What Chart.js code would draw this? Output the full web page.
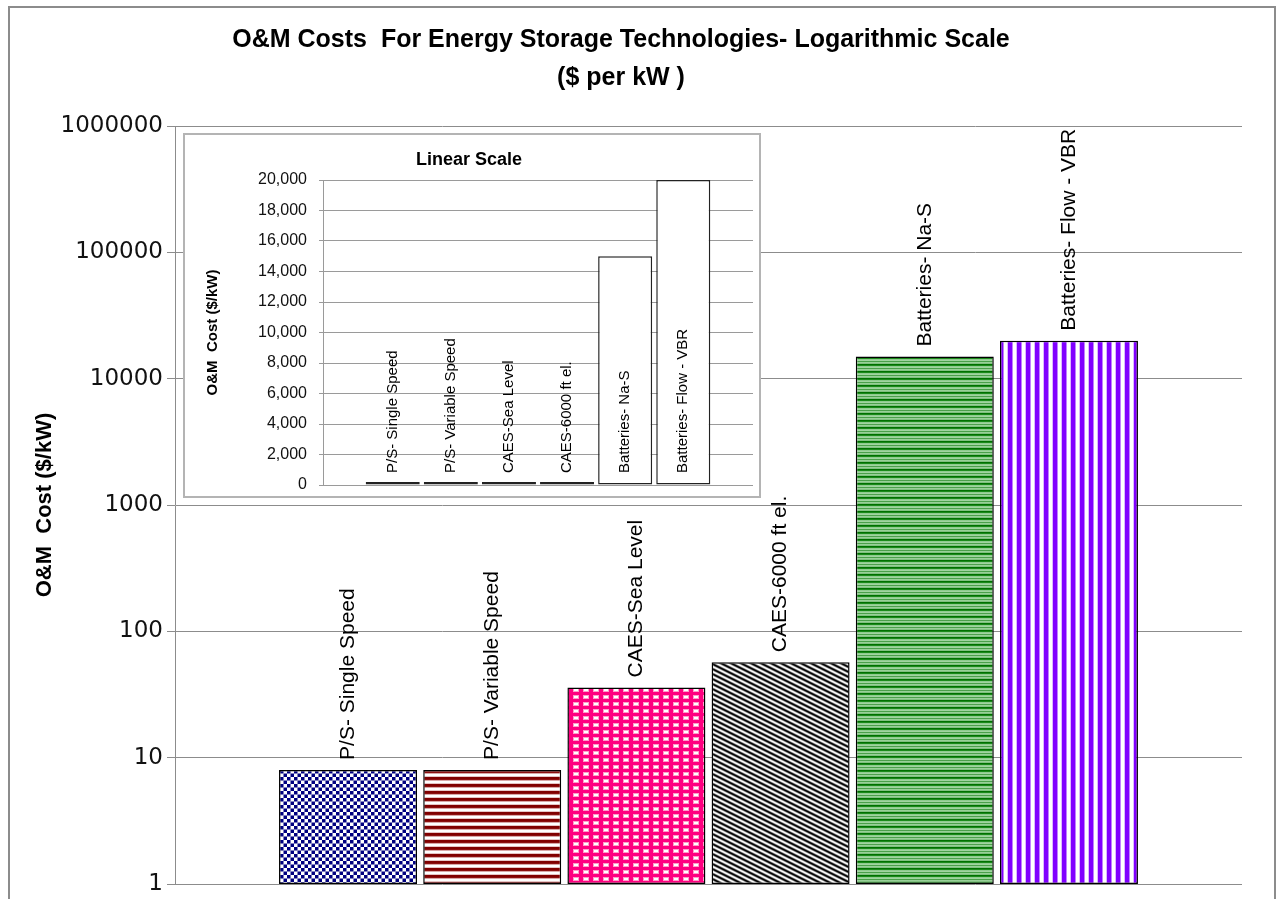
<!DOCTYPE html>
<html>
<head>
<meta charset="utf-8">
<title>O&amp;M Costs For Energy Storage Technologies</title>
<script src="https://cdn.jsdelivr.net/npm/chart.js@4.4.1/dist/chart.umd.min.js"></script>
<style>
  html, body { margin: 0; padding: 0; background: #fff; }
  #wrap { position: relative; width: 1283px; height: 899px; overflow: hidden; }
  #frame { position: absolute; left: 8px; top: 6px; width: 1268px; height: 920px; border: 2px solid #8c8c8c; box-sizing: border-box; }
  #mainBox { position: absolute; left: 0; top: 0; width: 1283px; height: 960px; }
  #insetBox { position: absolute; left: 183px; top: 133px; width: 578px; height: 365px; background: #fff; border: 2px solid #b4b4b4; box-sizing: border-box; }
  #insetInner { position: absolute; left: 185px; top: 135px; width: 574px; height: 400px; }
</style>
</head>
<body>
<div id="wrap">
  <div id="frame"></div>
  <div id="mainBox"><canvas id="mainChart"></canvas></div>
  <div id="insetBox"></div>
  <div id="insetInner"><canvas id="insetChart"></canvas></div>
</div>
<script>
// data
const technologies = ['P/S- Single Speed', 'P/S- Variable Speed', 'CAES-Sea Level', 'CAES-6000 ft el.', 'Batteries- Na-S', 'Batteries- Flow - VBR'];
const omCost = [8, 8, 36, 57, 15000, 20000];
const logTicks = [1, 10, 100, 1000, 10000, 100000, 1000000];
const linearTicks = [0, 2000, 4000, 6000, 8000, 10000, 12000, 14000, 16000, 18000, 20000];

// fill patterns
function makePattern(w, h, draw) {
    const c = document.createElement('canvas');
    c.width = w;
    c.height = h;
    const g = c.getContext('2d');
    draw(g, w, h);
    return document.createElement('canvas').getContext('2d').createPattern(c, 'repeat');
}

function rows(colors) {
    return makePattern(1, colors.length, (g) => {
        colors.forEach((col, i) => { g.fillStyle = col; g.fillRect(0, i, 1, 1); });
    });
}

function cols(colors) {
    return makePattern(colors.length, 1, (g) => {
        colors.forEach((col, i) => { g.fillStyle = col; g.fillRect(i, 0, 1, 1); });
    });
}

const checker = makePattern(7, 7, (g) => {
    g.fillStyle = '#fff';
    g.fillRect(0, 0, 7, 7);
    g.fillStyle = '#000080';
    g.fillRect(0, 0, 3.5, 3.5);
    g.fillRect(3.5, 3.5, 3.5, 3.5);
});
const redStripes = rows(['#800000', '#800000', '#8c1010', '#d8a8a8', '#ffffff', '#ffffff', '#e6c4c4']);
const pinkGrid = makePattern(10, 7, (g) => {
    g.fillStyle = '#ff0080';
    g.fillRect(0, 0, 10, 7);
    g.fillStyle = '#ff9cc8';
    g.fillRect(3, 2, 6, 4);
    g.fillStyle = '#fff';
    g.fillRect(4, 3, 4, 2);
});
const diagonal = makePattern(10, 5, (g) => {
    const img = g.createImageData(10, 5);
    for (let y = 0; y < 5; y++) {
        for (let x = 0; x < 10; x++) {
            const d = (((x - 2 * y) % 10) + 10) % 10 / 10;
            const v = Math.round(255 * (0.5 + 0.5 * Math.cos(2 * Math.PI * d)));
            const k = (y * 10 + x) * 4;
            img.data[k] = v; img.data[k + 1] = v; img.data[k + 2] = v; img.data[k + 3] = 255;
        }
    }
    g.putImageData(img, 0, 0);
});
const greenStripes = rows(['#007000', '#1a8a1a', '#8fcb8f', '#a0d4a0', '#4aa04a', '#98d098', '#80c080']);
const purpleStripes = cols(['#8000ff', '#8000ff', '#8000ff', '#8000ff', '#c080ff', '#ffffff', '#ffffff', '#ffffff', '#dcb8ff']);

const barFills = [checker, redStripes, pinkGrid, diagonal, greenStripes, purpleStripes];

// rotated category labels
const barLabels = {
    id: 'barLabels',
    afterDatasetsDraw(chart, args, opts) {
        const ctx = chart.ctx;
        const meta = chart.getDatasetMeta(0);
        const base = chart.scales.y.getPixelForValue(chart.scales.y.min);
        ctx.save();
        ctx.font = opts.font;
        ctx.fillStyle = '#000';
        ctx.textAlign = 'left';
        ctx.textBaseline = 'middle';
        meta.data.forEach((bar, i) => {
            const y0 = opts.atBase ? base - opts.gap : bar.y - opts.gap;
            ctx.save();
            ctx.translate(bar.x, y0);
            ctx.rotate(-Math.PI / 2);
            ctx.fillText(technologies[i], 0, 0);
            ctx.restore();
        });
        ctx.restore();
    }
};

Chart.register(barLabels);

const points = omCost.map((v, i) => ({ x: i, y: v }));

new Chart(document.getElementById('mainChart'), {
    type: 'bar',
    data: {
        datasets: [{
            data: points,
            backgroundColor: barFills,
            borderColor: '#000',
            borderWidth: 1.5,
            borderSkipped: false,
            barPercentage: 0.957,
            categoryPercentage: 1
        }]
    },
    options: {
        responsive: true,
        maintainAspectRatio: false,
        animation: false,
        layout: { padding: { left: 0, right: 41, top: 0, bottom: 76 } },
        plugins: {
            legend: { display: false },
            tooltip: { enabled: false },
            title: {
                display: true,
                text: ['O&M Costs  For Energy Storage Technologies- Logarithmic Scale', '($ per kW )'],
                color: '#000',
                font: { family: 'Liberation Sans', size: 25, weight: 'bold', lineHeight: 1.52 },
                padding: { top: 21, bottom: 29 }
            },
            barLabels: { font: '21px "Liberation Sans"', gap: 10, atBase: false }
        },
        scales: {
            x: {
                type: 'linear',
                min: -1.2,
                max: 6.2,
                offset: false,
                display: false,
                afterBuildTicks: (s) => { s.ticks = technologies.map((t, i) => ({ value: i })); }
            },
            y: {
                type: 'logarithmic',
                min: 1,
                max: 1000000,
                afterBuildTicks: (s) => { s.ticks = logTicks.map(v => ({ value: v })); },
                afterFit: (s) => { s.width = 175; },
                ticks: {
                    color: '#111',
                    padding: 4,
                    font: { family: 'DejaVu Sans', size: 23 },
                    callback: (v) => String(v)
                },
                grid: { color: '#8c8c8c', lineWidth: 1, tickLength: 8 },
                border: { color: '#8c8c8c', width: 1 },
                title: {
                    display: true,
                    text: 'O&M  Cost ($/kW)',
                    color: '#000',
                    font: { family: 'Liberation Sans', size: 22, weight: 'bold' },
                    padding: { top: 32, bottom: 0 }
                }
            }
        }
    }
});

new Chart(document.getElementById('insetChart'), {
    type: 'bar',
    data: {
        datasets: [{
            data: points,
            backgroundColor: ['#222', '#222', '#222', '#222', '#fff', '#fff'],
            borderColor: '#222',
            borderWidth: 1.5,
            borderSkipped: false,
            minBarLength: 3,
            barPercentage: 0.93,
            categoryPercentage: 1
        }]
    },
    options: {
        responsive: true,
        maintainAspectRatio: false,
        animation: false,
        layout: { padding: { left: 0, right: 6, top: 0, bottom: 50 } },
        plugins: {
            legend: { display: false },
            tooltip: { enabled: false },
            title: {
                display: true,
                text: 'Linear Scale',
                color: '#000',
                font: { family: 'Liberation Sans', size: 18, weight: 'bold', lineHeight: 1.2 },
                padding: { top: 14, bottom: 9.4 }
            },
            barLabels: { font: '15px "Liberation Sans"', gap: 12, atBase: true }
        },
        scales: {
            x: {
                type: 'linear',
                min: -1.2,
                max: 6.2,
                offset: false,
                display: false,
                afterBuildTicks: (s) => { s.ticks = technologies.map((t, i) => ({ value: i })); }
            },
            y: {
                min: 0,
                max: 20000,
                afterBuildTicks: (s) => { s.ticks = linearTicks.map(v => ({ value: v })); },
                afterFit: (s) => { s.width = 138; },
                ticks: {
                    color: '#111',
                    padding: 12,
                    font: { family: 'Liberation Sans', size: 16 },
                    callback: (v) => v.toLocaleString('en-US')
                },
                grid: { color: '#9a9a9a', lineWidth: 1, tickLength: 4 },
                border: { color: '#9a9a9a', width: 1 },
                title: {
                    display: true,
                    text: 'O&M  Cost ($/kW)',
                    color: '#000',
                    font: { family: 'Liberation Sans', size: 15, weight: 'bold' },
                    padding: { top: 19, bottom: 0 }
                }
            }
        }
    }
});
</script>
</body>
</html>
